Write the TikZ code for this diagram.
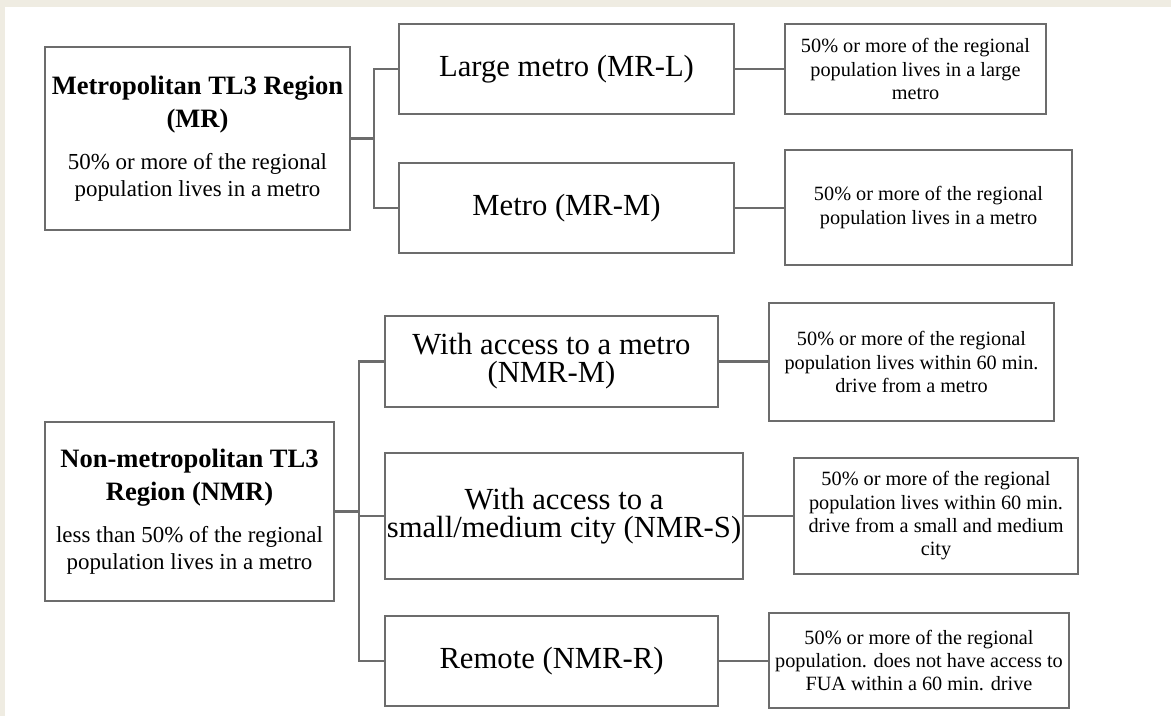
\documentclass[tikz,border=0pt]{standalone}
\usepackage{fontspec}
\setmainfont{Liberation Serif}
\usetikzlibrary{positioning}

\definecolor{pagebeige}{RGB}{239,236,226}
\definecolor{boxgray}{RGB}{108,108,108}
\newcommand{\headfont}{\fontsize{19.9}{24.5}\selectfont\bfseries}
\newcommand{\leftfont}{\fontsize{17.2}{20.3}\selectfont\mdseries}
\newcommand{\midfont}{\fontsize{23}{21}\selectfont}
\newcommand{\descfont}{\fontsize{15.2}{17.5}\selectfont}

\tikzset{every picture/.style={line width=1.7pt}}

\begin{document}
\begin{tikzpicture}[x=0.75pt,y=0.75pt,yscale=-1,
  regbox/.style={draw=boxgray,rectangle,inner sep=0pt,align=center,font=\headfont},
  classbox/.style={draw=boxgray,rectangle,inner sep=0pt,align=center,font=\midfont},
  descbox/.style={draw=boxgray,rectangle,inner sep=0pt,align=center,font=\descfont},
  link/.style={draw=boxgray}]
% page
\useasboundingbox (0,0) rectangle (1171,716);
\fill[pagebeige] (0,0) rectangle (1171,716);
\fill[white] (5,7) rectangle (1171,716);

% metropolitan regions
\node[regbox,minimum width=305*0.75,minimum height=183*0.75] (MR) at (197.5,138.5)
  {Metropolitan TL3 Region\\(MR)\\[7pt]\leftfont 50\% or more of the regional\\[-4.3pt]\leftfont population lives in a metro};
\node[classbox,minimum width=335*0.75,minimum height=90*0.75] (MRL) at (566.5,69) {Large metro (MR-L)};
\node[classbox,minimum width=335*0.75,minimum height=90*0.75] (MRM) at (566.5,208) {Metro (MR-M)};
\node[descbox,minimum width=261*0.75,minimum height=90*0.75] (DL) at (915.5,69)
  {50\% or more of the regional\\population lives in a large\\metro};
\node[descbox,minimum width=287*0.75,minimum height=115*0.75] (DM) at (928.5,207.5)
  {50\% or more of the regional\\population lives in a metro};

% non-metropolitan regions
\node[regbox,minimum width=289*0.75,minimum height=179*0.75] (NMR) at (189.5,511.5)
  {Non-metropolitan TL3\\Region (NMR)\\[7pt]\leftfont less than 50\% of the regional\\[-4.3pt]\leftfont population lives in a metro};
\node[classbox,minimum width=333*0.75,minimum height=91*0.75] (NMRM) at (551.5,361.5)
  {With access to a metro\\(NMR-M)};
\node[classbox,minimum width=358*0.75,minimum height=126*0.75] (NMRS) at (564,516)
  {With access to a\\small/medium city (NMR-S)};
\node[classbox,minimum width=333*0.75,minimum height=90*0.75] (NMRR) at (551.5,661) {Remote (NMR-R)};
\node[descbox,minimum width=285*0.75,minimum height=118*0.75] (DNM) at (911.5,362)
  {50\% or more of the regional\\population lives within 60 min.\\drive from a metro};
\node[descbox,minimum width=284*0.75,minimum height=116*0.75] (DNS) at (936,516)
  {50\% or more of the regional\\population lives within 60 min.\\drive from a small and medium\\city};
\node[descbox,minimum width=300*0.75,minimum height=95*0.75] (DNR) at (919,660.5)
  {50\% or more of the regional\\population. does not have access to\\FUA within a 60 min. drive};

% connectors
\coordinate (mrbus) at (374,138.5);
\coordinate (nmrbus) at (359,511.5);
\draw[link] (MR.east) -- (mrbus);
\draw[link] (MRL.west) -| (mrbus |- MRM.west) -- (MRM.west);
\draw[link] (MRL.east) -- (DL.west);
\draw[link] (MRM.east) -- (MRM.east -| DM.west);
\draw[link] (NMR.east) -- (nmrbus);
\draw[link] (NMRM.west) -| (nmrbus |- NMRR.west) -- (NMRR.west);
\draw[link] (NMRS.west) -- (nmrbus |- NMRS.west);
\draw[link] (NMRM.east) -- (NMRM.east -| DNM.west);
\draw[link] (NMRS.east) -- (DNS.west);
\draw[link] (NMRR.east) -- (NMRR.east -| DNR.west);
\end{tikzpicture}
\end{document}
